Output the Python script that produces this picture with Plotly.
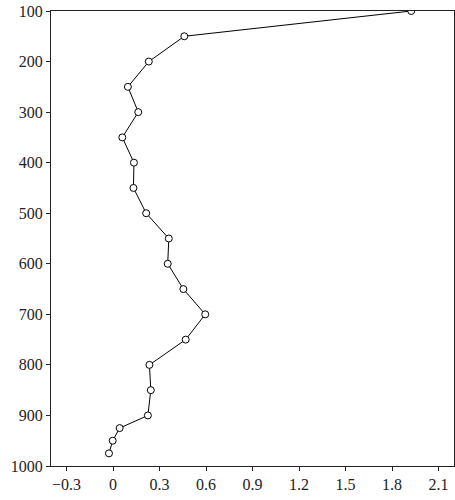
import plotly.graph_objects as go

depth = [100, 150, 200, 250, 300, 350, 400, 450, 500, 550, 600, 650, 700, 750, 800, 850, 900, 925, 950, 975]
value = [1.924, 0.460, 0.231, 0.096, 0.163, 0.060, 0.135, 0.132, 0.214, 0.360, 0.353, 0.454, 0.595, 0.469, 0.235, 0.244, 0.225, 0.043, -0.002, -0.026]

x_ticks = [-0.3, 0, 0.3, 0.6, 0.9, 1.2, 1.5, 1.8, 2.1]
x_labels = ["\u22120.3", "0", "0.3", "0.6", "0.9", "1.2", "1.5", "1.8", "2.1"]
y_ticks = [100, 200, 300, 400, 500, 600, 700, 800, 900, 1000]

fig = go.Figure(go.Scatter(
    x=value, y=depth, mode="lines+markers",
    line=dict(color="black", width=1),
    marker=dict(symbol="circle", size=7, color="white", line=dict(color="black", width=1)),
    showlegend=False,
))

fig.update_layout(
    width=455, height=500,
    margin=dict(l=51, r=1, t=11, b=34),
    paper_bgcolor="white", plot_bgcolor="white",
    font=dict(family="Liberation Serif", size=16, color="#222"),
)
fig.update_xaxes(
    range=[-0.4, 2.2], tickvals=x_ticks, ticktext=x_labels,
    showgrid=False, zeroline=False, showline=True, linecolor="#222", linewidth=1,
    mirror=True, ticks="outside", ticklen=4, tickcolor="#222",
)
fig.update_yaxes(
    range=[1000, 100], tickvals=y_ticks,
    showgrid=False, zeroline=False, showline=True, linecolor="#222", linewidth=1,
    mirror=True, ticks="outside", ticklen=4, tickcolor="#222",
)

fig.write_html("out.html", config={"displayModeBar": False},
               post_script="document.body.style.margin='0';")
